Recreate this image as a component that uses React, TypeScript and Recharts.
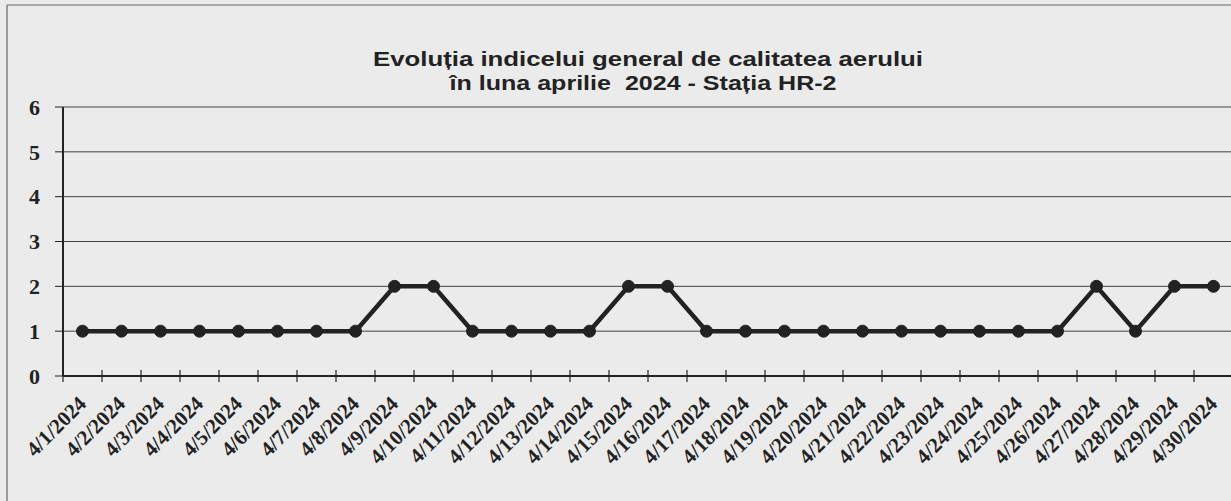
import React from 'react';
import { LineChart, Line, XAxis, YAxis, CartesianGrid } from 'recharts';

const days: string[] = [
  '4/1/2024', '4/2/2024', '4/3/2024', '4/4/2024', '4/5/2024', '4/6/2024', '4/7/2024', '4/8/2024', '4/9/2024', '4/10/2024',
  '4/11/2024', '4/12/2024', '4/13/2024', '4/14/2024', '4/15/2024', '4/16/2024', '4/17/2024', '4/18/2024', '4/19/2024', '4/20/2024',
  '4/21/2024', '4/22/2024', '4/23/2024', '4/24/2024', '4/25/2024', '4/26/2024', '4/27/2024', '4/28/2024', '4/29/2024', '4/30/2024',
];
const indexValues: number[] = [
  1, 1, 1, 1, 1, 1, 1, 1, 2, 2,
  1, 1, 1, 1, 2, 2, 1, 1, 1, 1,
  1, 1, 1, 1, 1, 1, 2, 1, 2, 2,
];
const yTicks: number[] = [0, 1, 2, 3, 4, 5, 6];
const titleLine1 = 'Evoluția indicelui general de calitatea aerului';
const titleLine2 = 'în luna aprilie  2024 - Stația HR-2';

const data = days.map((d, i) => ({ day: d, value: indexValues[i] }));

const INK = '#222';

const XTick = (props: any) => {
  const { x, y, payload, index, visibleTicksCount } = props;
  const off = payload && payload.offset ? payload.offset : 0;
  const isLast = index === (visibleTicksCount ?? days.length) - 1;
  return (
    <g>
      <line x1={x - off} y1={y - 6} x2={x - off} y2={y + 6} stroke={INK} strokeWidth={1.2} />
      {isLast && <line x1={x + off} y1={y} x2={x + off} y2={y + 6} stroke={INK} strokeWidth={1.2} />}
      <text
        transform={`translate(${x + 5},${y + 29}) rotate(-45)`}
        textAnchor="end"
        fontFamily="'Liberation Serif', 'Times New Roman', serif"
        fontWeight="bold"
        fontSize={21}
        fill={INK}
      >
        {payload.value}
      </text>
    </g>
  );
};

export default function App() {
  return (
    <div
      style={{
        position: 'fixed',
        left: 0,
        top: 0,
        width: 1231,
        height: 501,
        overflow: 'hidden',
        background: '#ebebeb',
      }}
    >
      <div style={{ position: 'absolute', left: 0, top: 0 }}>
        <LineChart
          width={1240}
          height={501}
          data={data}
          margin={{ top: 107, right: 7, left: 0, bottom: 0 }}
        >
          <CartesianGrid horizontal vertical={false} stroke="#444" strokeWidth={1} />
          <XAxis
            dataKey="day"
            scale="band"
            interval={0}
            height={125}
            tickSize={0}
            tickMargin={0}
            tickLine={false}
            axisLine={{ stroke: INK, strokeWidth: 2 }}
            tick={<XTick />}
          />
          <YAxis
            domain={[0, 6]}
            ticks={yTicks}
            width={63}
            tickSize={8}
            tickMargin={15}
            interval={0}
            axisLine={{ stroke: INK, strokeWidth: 2 }}
            tickLine={{ stroke: INK, strokeWidth: 1 }}
            tick={{
              fill: INK,
              fontSize: 22,
              fontWeight: 'bold',
              fontFamily: "'Liberation Serif', 'Times New Roman', serif",
            }}
          />
          <Line
            type="linear"
            dataKey="value"
            stroke={INK}
            strokeWidth={4.5}
            dot={{ r: 6, fill: INK, stroke: INK, strokeWidth: 1 }}
            activeDot={false}
            isAnimationActive={false}
          />
        </LineChart>
      </div>
      <svg
        width={1231}
        height={501}
        style={{ position: 'absolute', left: 0, top: 0, pointerEvents: 'none' }}
      >
        <line x1={7} y1={5} x2={1231} y2={5} stroke="#666" strokeWidth={1.2} />
        <line x1={7} y1={5} x2={7} y2={501} stroke="#666" strokeWidth={1.2} />
        <text
          x={648}
          y={66}
          textAnchor="middle"
          fontFamily="'Liberation Sans', Arial, sans-serif"
          fontWeight="bold"
          fontSize={21}
          fill={INK}
          textLength={550}
          lengthAdjust="spacingAndGlyphs"
        >
          {titleLine1}
        </text>
        <text
          x={643}
          y={90}
          textAnchor="middle"
          fontFamily="'Liberation Sans', Arial, sans-serif"
          fontWeight="bold"
          fontSize={21}
          fill={INK}
          textLength={387}
          lengthAdjust="spacingAndGlyphs"
          style={{ whiteSpace: 'pre' }}
        >
          {titleLine2}
        </text>
      </svg>
    </div>
  );
}
